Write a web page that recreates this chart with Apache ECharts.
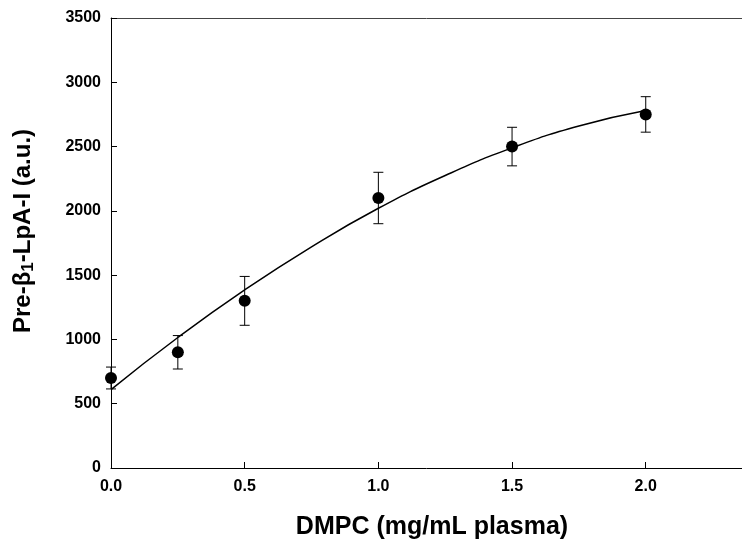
<!DOCTYPE html>
<html>
<head>
<meta charset="utf-8">
<script src="https://cdn.jsdelivr.net/npm/echarts@6/dist/echarts.min.js"></script>
<style>
  html, body { margin: 0; padding: 0; background: #fff; }
  #chart { width: 742px; height: 546px; }
</style>
</head>
<body>
<div id="chart"></div>
<script>
// DMPC dose (mg/mL plasma) and measured pre-beta1-LpA-I (a.u.)
const doses = [0, 0.25, 0.5, 1.0, 1.5, 2.0];
const means = [700, 900, 1300, 2100, 2500, 2750];
const errors = [85, 130, 190, 200, 150, 138];

// fitted curve, sampled along the dose range
const fitX = [0, 0.25, 0.5, 0.75, 1.0, 1.25, 1.5, 1.75, 2.0];
const fitY = [610, 1015, 1385, 1720, 2020, 2275, 2490, 2660, 2780];

const xTicks = ['0.0', '0.5', '1.0', '1.5', '2.0'];
const yTicks = ['0', '500', '1000', '1500', '2000', '2500', '3000', '3500'];

const FONT = '"Liberation Sans", Arial, Helvetica, sans-serif';

const pointData = doses.map((d, i) => [d, means[i]]);
const errData = doses.map((d, i) => [d, means[i] - errors[i], means[i] + errors[i]]);
const fitData = fitX.map((d, i) => [d, fitY[i]]);

const chart = echarts.init(document.getElementById('chart'), null, { renderer: 'canvas' });

const tickLabel = {
  fontFamily: FONT, fontWeight: 'bold', fontSize: 16, color: '#000'
};

chart.setOption({
  animation: false,
  backgroundColor: '#fff',
  grid: { left: 111, top: 18, width: 631, height: 450, containLabel: false },
  xAxis: [{
    type: 'value', min: 0, max: 2.36, interval: 0.5,
    axisLine: { show: true, onZero: false, lineStyle: { color: '#000', width: 1 } },
    axisTick: { show: true, inside: true, length: 6, lineStyle: { color: '#000' } },
    axisLabel: Object.assign({
      margin: 11, showMaxLabel: false,
      formatter: v => { const s = v.toFixed(1); return xTicks.indexOf(s) >= 0 ? s : ''; }
    }, tickLabel),
    splitLine: { show: false }
  }, {
    type: 'value', position: 'top', min: 0, max: 2.36,
    axisLine: { show: true, onZero: false, lineStyle: { color: '#444', width: 1 } },
    axisTick: { show: false }, axisLabel: { show: false }, splitLine: { show: false }
  }],
  yAxis: {
    type: 'value', min: 0, max: 3500, interval: 500,
    axisLine: { show: true, onZero: false, lineStyle: { color: '#000', width: 1 } },
    axisTick: { show: true, inside: true, length: 6, lineStyle: { color: '#000' } },
    axisLabel: Object.assign({
      margin: 10,
      formatter: v => { const s = String(v); return yTicks.indexOf(s) >= 0 ? s : ''; }
    }, tickLabel),
    splitLine: { show: false }
  },
  graphic: [{
    type: 'text', x: 432, y: 527,
    style: {
      text: 'DMPC (mg/mL plasma)',
      font: 'bold 25px ' + FONT, fill: '#000',
      align: 'center', verticalAlign: 'middle'
    }
  }, {
    type: 'text', x: 23, y: 231, rotation: Math.PI / 2,
    style: {
      text: '{a|Pre-β}{s|1}{a|-LpA-I (a.u.)}',
      align: 'center', verticalAlign: 'middle',
      rich: {
        a: { fontFamily: FONT, fontWeight: 'bold', fontSize: 24, lineHeight: 28, fill: '#000' },
        s: { fontFamily: FONT, fontWeight: 'bold', fontSize: 17, lineHeight: 17, verticalAlign: 'bottom', fill: '#000' }
      }
    }
  }],
  series: [{
    type: 'line', name: 'fit', data: fitData, smooth: true,
    showSymbol: false, symbol: 'none',
    lineStyle: { color: '#000', width: 1.5 }, z: 2
  }, {
    type: 'custom', name: 'error', data: errData, z: 3,
    renderItem: (params, api) => {
      const x = api.value(0);
      const lo = api.coord([x, api.value(1)]);
      const hi = api.coord([x, api.value(2)]);
      const w = 5;
      const st = { stroke: '#000', lineWidth: 1 };
      return {
        type: 'group',
        children: [
          { type: 'line', shape: { x1: lo[0], y1: lo[1], x2: hi[0], y2: hi[1] }, style: st },
          { type: 'line', shape: { x1: lo[0] - w, y1: lo[1], x2: lo[0] + w, y2: lo[1] }, style: st },
          { type: 'line', shape: { x1: hi[0] - w, y1: hi[1], x2: hi[0] + w, y2: hi[1] }, style: st }
        ]
      };
    }
  }, {
    type: 'scatter', name: 'mean', data: pointData, symbol: 'circle', symbolSize: 12,
    itemStyle: { color: '#000', opacity: 1 }, z: 4
  }]
});
</script>
</body>
</html>
